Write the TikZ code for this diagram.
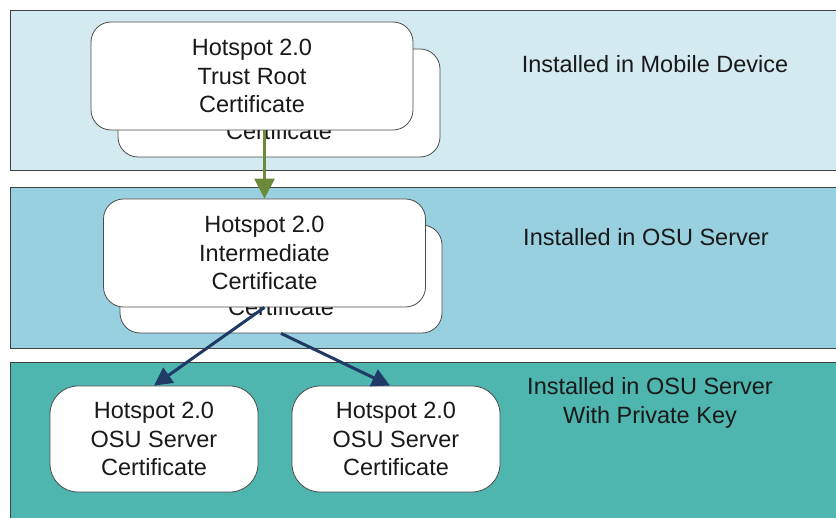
\documentclass[tikz,border=0pt]{standalone}
\usepackage{fontspec}
\setmainfont{Liberation Sans}
\usetikzlibrary{arrows.meta}

\definecolor{bandmobile}{HTML}{D3EAF0}
\definecolor{bandserver}{HTML}{99D0DF}
\definecolor{bandkey}{HTML}{4EB5AF}
\definecolor{trustgreen}{HTML}{6B8A3A}
\definecolor{chainblue}{HTML}{1F3A64}

\tikzset{
  band/.style={draw=black!75, line width=0.8pt, anchor=north west,
    minimum width=850, minimum height=#1, inner sep=0pt},
  bandtext/.style={font=\fontsize{23.5}{28.5}\selectfont, align=center, text=black!90},
  cert/.style={draw=black!70, line width=0.8pt, fill=white, rounded corners=20pt,
    minimum width=322, minimum height=108, align=center, inner sep=0pt,
    font=\fontsize{23.5}{28.5}\selectfont, text=black!90},
  leafcert/.style={cert, rounded corners=28pt, minimum width=208, minimum height=106},
  rootarrow/.style={draw=trustgreen, line width=3.2pt, -{Triangle[length=20pt,width=20pt]}},
  chainarrow/.style={draw=chainblue, line width=3pt, -{Triangle[length=18pt,width=18pt]}}
}

\begin{document}
\begin{tikzpicture}[x=1pt, y=-1pt]
  \useasboundingbox (0,0) rectangle (836,518);

  % bands
  \node[band=160, fill=bandmobile] (mobile) at (10,10) {};
  \node[band=161, fill=bandserver] (server) at (10,187) {};
  \node[band=170, fill=bandkey] (withkey) at (10,362) {};

  \node[bandtext] (mobiletext) at (655,64) {Installed in Mobile Device};
  \node[bandtext] (servertext) at (646,237) {Installed in OSU Server};
  \node[bandtext] (withkeytext) at (650,403) {Installed in OSU Server\\With Private Key};

  % certificates
  \node[cert] (rootback) at (279,103) {Hotspot 2.0\\Trust Root\\Certificate};
  \node[cert] (root) at (252,76) {Hotspot 2.0\\Trust Root\\Certificate};

  \node[cert] (interback) at (281,279) {Hotspot 2.0\\Intermediate\\Certificate};
  \node[cert] (inter) at (264.5,253) {Hotspot 2.0\\Intermediate\\Certificate};

  \node[leafcert] (osuleft) at (154,439) {Hotspot 2.0\\OSU Server\\Certificate};
  \node[leafcert] (osuright) at (396,439) {Hotspot 2.0\\OSU Server\\Certificate};

  % arrows
  \draw[rootarrow] (root.south -| inter.north) -- (inter.north);
  \draw[chainarrow] (inter.south) -- (osuleft.north);
  \draw[chainarrow] (interback.south) -- ([xshift=-6pt]osuright.north);
\end{tikzpicture}
\end{document}
